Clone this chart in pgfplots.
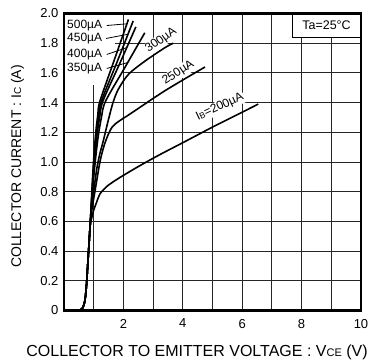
\documentclass[border=0pt]{standalone}
\usepackage{pgfplots}
\pgfplotsset{compat=1.18}
\usepackage{fontspec}
\setmainfont{Liberation Sans}

% shared cut-in part of every collector curve
\newcommand{\base}{(0,0) (0.45,0) (0.55,0.004) (0.62,0.015) (0.68,0.045) (0.72,0.09) (0.76,0.18) (0.80,0.31) (0.84,0.44) (0.88,0.57)}
\tikzset{curve/.style={black, line width=1.6pt, smooth, tension=0.5, no markers}}

\begin{document}
\begin{tikzpicture}[x=1pt,y=1pt]
\useasboundingbox (-64,-53) rectangle (309,310.5);
\begin{axis}[
  anchor=south west, at={(0,0)},
  width=297pt, height=297pt, scale only axis,
  xmin=0, xmax=10, ymin=0, ymax=2,
  xtick={1,2,...,10}, xticklabels={,2,,4,,6,,8,,10},
  ytick={0,0.2,0.4,0.6,0.8,1.0,1.2,1.4,1.6,1.8,2.0},
  yticklabels={0,0.2,0.4,0.6,0.8,1.0,1.2,1.4,1.6,1.8,2.0},
  major tick length=0pt,
  grid=major,
  grid style={black!85, line width=0.8pt},
  axis line style={line width=2.4pt},
  tick label style={font=\fontsize{13}{15}\selectfont},
  xticklabel style={yshift=-5pt},
  yticklabel style={xshift=-2pt},
  /pgf/number format/assume math mode=true,
  clip=false,
]
% white ground under the base-current labels
\fill[white] (axis cs:0.045,1.52) rectangle (axis cs:1.72,1.99);
\fill[white] (axis cs:1.72,1.52) rectangle (axis cs:1.97,1.72);
% ambient temperature box
\fill[white] (axis cs:7.68,1.838) rectangle (axis cs:9.96,1.992);
\draw[line width=0.8pt] (axis cs:7.68,1.992) -- (axis cs:7.68,1.838) -- (axis cs:9.96,1.838);
\node[font=\fontsize{12.5}{14}\selectfont] at (axis cs:8.84,1.919) {Ta=25°C};

% IB = 200 uA
\addplot[curve] coordinates {\base (0.93,0.62) (0.99,0.67) (1.1,0.73) (1.21,0.785) (1.44,0.835) (1.72,0.875) (2.0,0.91) (2.56,0.976) (3.23,1.05) (4.0,1.13) (5.0,1.235) (5.8,1.315) (6.54,1.39)};
% IB = 250 uA
\addplot[curve] coordinates {\base (0.93,0.67) (1.04,0.80) (1.21,1.0) (1.35,1.11) (1.5,1.19) (1.62,1.235) (1.75,1.26) (2.0,1.295) (2.2,1.32) (3.4,1.48) (4.75,1.64)};
% IB = 300 uA
\addplot[curve] coordinates {\base (0.92,0.67) (1.0,0.8) (1.1,0.95) (1.2,1.05) (1.32,1.14) (1.49,1.28) (1.65,1.4) (1.83,1.49) (2.17,1.59) (2.73,1.68) (3.4,1.77) (3.68,1.80)};
% IB = 350 uA
\addplot[curve] coordinates {\base (0.9,0.64) (0.98,0.85) (1.05,1.0) (1.15,1.17) (1.26,1.3) (1.40,1.41) (2.06,1.64) (2.72,1.87)};
% IB = 400 uA
\addplot[curve] coordinates {\base (0.9,0.64) (0.97,0.85) (1.03,1.01) (1.11,1.18) (1.2,1.3) (1.31,1.41) (1.87,1.66) (2.42,1.91)};
% IB = 450 uA
\addplot[curve] coordinates {\base (0.9,0.64) (0.96,0.85) (1.01,1.01) (1.09,1.19) (1.17,1.31) (1.26,1.41) (1.80,1.68) (2.33,1.95)};
% IB = 500 uA
\addplot[curve] coordinates {\base (0.9,0.64) (0.95,0.85) (1.0,1.02) (1.07,1.2) (1.14,1.32) (1.21,1.41) (1.69,1.685) (2.17,1.96)};

% curve labels
\begin{scope}[font=\fontsize{12}{14}\selectfont, inner sep=0pt]
\node[anchor=west] at (axis cs:0.1,1.919) {500µA};
\node[anchor=west] at (axis cs:0.1,1.832) {450µA};
\node[anchor=west] at (axis cs:0.1,1.724) {400µA};
\node[anchor=west] at (axis cs:0.1,1.630) {350µA};
\end{scope}
\draw[line width=0.8pt] (axis cs:1.44,1.919) -- (axis cs:2.08,1.93);
\draw[line width=0.8pt] (axis cs:1.42,1.832) -- (axis cs:2.15,1.86);
\draw[line width=0.8pt] (axis cs:1.44,1.724) -- (axis cs:2.11,1.77);
\draw[line width=0.8pt] (axis cs:1.44,1.630) -- (axis cs:2.15,1.67);
\begin{scope}[font=\fontsize{12}{14}\selectfont, inner sep=1pt]
\node[fill=white, rotate=36] at (axis cs:3.27,1.82) {300µA};
\node[fill=white, rotate=33] at (axis cs:3.85,1.60) {250µA};
\node[fill=white, rotate=25] at (axis cs:5.25,1.37) {I{\fontsize{8.5}{10}\selectfont B}=200µA};
\end{scope}
\end{axis}
% axis titles
\node[font=\fontsize{16}{18}\selectfont] at (133,-42) {COLLECTOR TO EMITTER VOLTAGE : V{\fontsize{11}{13}\selectfont CE} (V)};
\node[font=\fontsize{14}{16}\selectfont, rotate=90] at (-46.5,144) {COLLECTOR CURRENT : I{\fontsize{10}{12}\selectfont C} (A)};
\end{tikzpicture}
\end{document}
